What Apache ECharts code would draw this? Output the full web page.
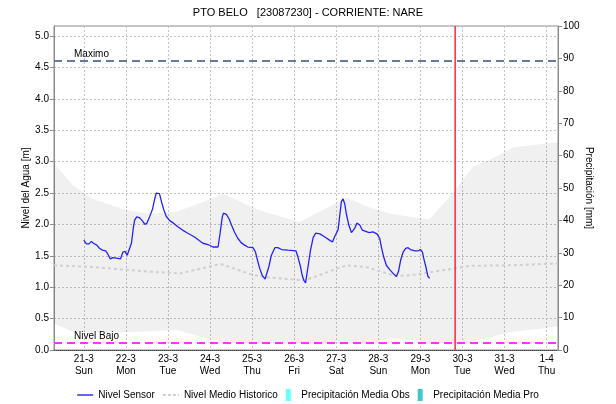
<!DOCTYPE html>
<html>
<head>
<meta charset="utf-8">
<script src="https://cdn.jsdelivr.net/npm/echarts@6/dist/echarts.min.js"></script>
<style>
  html, body { margin: 0; padding: 0; background: #fff; }
  #chart { width: 616px; height: 404px; }
</style>
</head>
<body>
<div id="chart"></div>
<script>
// Station and axis settings
const chartTitle = 'PTO BELO   [23087230] - CORRIENTE: NARE';
const dayNames = ['Sun', 'Mon', 'Tue', 'Wed', 'Thu', 'Fri', 'Sat'];
const axisStart = '2021-03-20 07:00';
const axisEnd = '2021-04-01 06:30';
const nowMark = '2021-03-29 19:50';
const levelMaximo = 4.61;
const levelBajo = 0.12;

// Sensor water level [m]
const sensorLevel = [
  ['2021-03-21 00:00', 1.75], ['2021-03-21 01:30', 1.69], ['2021-03-21 03:00', 1.69],
  ['2021-03-21 04:20', 1.73], ['2021-03-21 05:30', 1.70], ['2021-03-21 07:25', 1.67],
  ['2021-03-21 08:55', 1.62], ['2021-03-21 10:35', 1.59], ['2021-03-21 12:30', 1.58],
  ['2021-03-21 13:40', 1.53], ['2021-03-21 15:05', 1.45], ['2021-03-21 16:35', 1.47],
  ['2021-03-21 19:25', 1.46], ['2021-03-21 20:55', 1.45], ['2021-03-21 22:20', 1.56],
  ['2021-03-21 23:30', 1.57], ['2021-03-22 00:45', 1.51], ['2021-03-22 01:40', 1.50],
  ['2021-03-22 03:10', 1.70], ['2021-03-22 04:20', 1.96], ['2021-03-22 05:00', 2.07],
  ['2021-03-22 06:10', 2.12], ['2021-03-22 07:40', 2.11], ['2021-03-22 09:20', 2.06],
  ['2021-03-22 10:50', 2.00], ['2021-03-22 12:00', 2.02], ['2021-03-22 13:30', 2.12],
  ['2021-03-22 15:10', 2.24], ['2021-03-22 16:20', 2.39], ['2021-03-22 17:20', 2.50],
  ['2021-03-22 18:10', 2.53], ['2021-03-22 19:10', 2.49], ['2021-03-22 20:20', 2.36],
  ['2021-03-22 21:40', 2.23], ['2021-03-22 23:00', 2.13], ['2021-03-23 01:00', 2.06],
  ['2021-03-23 03:10', 2.02], ['2021-03-23 05:50', 1.96], ['2021-03-23 08:20', 1.91],
  ['2021-03-23 11:20', 1.86], ['2021-03-23 15:10', 1.80], ['2021-03-23 18:00', 1.74],
  ['2021-03-23 19:55', 1.70], ['2021-03-23 22:50', 1.68], ['2021-03-24 01:40', 1.64],
  ['2021-03-24 04:35', 1.64], ['2021-03-24 05:45', 1.86], ['2021-03-24 07:00', 2.12],
  ['2021-03-24 07:40', 2.18], ['2021-03-24 09:20', 2.16], ['2021-03-24 10:50', 2.09],
  ['2021-03-24 12:15', 1.99], ['2021-03-24 13:55', 1.88], ['2021-03-24 15:50', 1.78],
  ['2021-03-24 17:45', 1.71], ['2021-03-24 19:40', 1.67], ['2021-03-24 21:35', 1.64],
  ['2021-03-25 00:30', 1.63], ['2021-03-25 01:55', 1.56], ['2021-03-25 03:05', 1.43],
  ['2021-03-25 04:20', 1.30], ['2021-03-25 05:45', 1.19], ['2021-03-25 07:25', 1.13],
  ['2021-03-25 08:25', 1.16], ['2021-03-25 09:35', 1.33], ['2021-03-25 11:00', 1.51],
  ['2021-03-25 13:00', 1.63], ['2021-03-25 14:40', 1.63], ['2021-03-25 16:50', 1.60],
  ['2021-03-25 20:25', 1.59], ['2021-03-26 01:00', 1.58], ['2021-03-26 02:10', 1.48],
  ['2021-03-26 03:35', 1.33], ['2021-03-26 04:35', 1.19], ['2021-03-26 05:30', 1.11],
  ['2021-03-26 06:30', 1.07], ['2021-03-26 07:55', 1.33], ['2021-03-26 09:20', 1.59],
  ['2021-03-26 10:50', 1.79], ['2021-03-26 12:15', 1.86], ['2021-03-26 14:40', 1.85],
  ['2021-03-26 17:30', 1.80], ['2021-03-26 20:10', 1.75], ['2021-03-26 21:50', 1.72],
  ['2021-03-26 23:00', 1.80], ['2021-03-27 01:00', 1.91], ['2021-03-27 01:55', 2.12],
  ['2021-03-27 02:55', 2.36], ['2021-03-27 03:50', 2.41], ['2021-03-27 04:50', 2.33],
  ['2021-03-27 05:45', 2.17], ['2021-03-27 07:10', 1.99], ['2021-03-27 08:40', 1.87],
  ['2021-03-27 09:35', 1.87], ['2021-03-27 10:35', 1.94], ['2021-03-27 11:45', 2.02],
  ['2021-03-27 13:25', 1.99], ['2021-03-27 14:50', 1.91], ['2021-03-27 16:50', 1.89],
  ['2021-03-27 18:45', 1.87], ['2021-03-27 20:55', 1.88], ['2021-03-27 23:15', 1.85],
  ['2021-03-28 00:45', 1.78], ['2021-03-28 01:55', 1.62], ['2021-03-28 03:05', 1.48],
  ['2021-03-28 04:35', 1.35], ['2021-03-28 06:30', 1.28], ['2021-03-28 08:25', 1.22],
  ['2021-03-28 10:20', 1.17], ['2021-03-28 11:30', 1.25], ['2021-03-28 12:45', 1.43],
  ['2021-03-28 14:10', 1.56], ['2021-03-28 15:35', 1.62], ['2021-03-28 17:00', 1.63],
  ['2021-03-28 18:15', 1.60], ['2021-03-28 20:55', 1.58], ['2021-03-28 22:50', 1.58],
  ['2021-03-29 00:00', 1.60], ['2021-03-29 01:10', 1.56], ['2021-03-29 01:55', 1.46],
  ['2021-03-29 03:05', 1.33], ['2021-03-29 04:20', 1.17], ['2021-03-29 05:20', 1.14]
];

// Historical mean level [m]
const medianLevel = [
  ['2021-03-20 07:00', 1.35], ['2021-03-21 05:00', 1.32], ['2021-03-22 00:00', 1.28],
  ['2021-03-22 12:00', 1.25], ['2021-03-23 07:00', 1.22], ['2021-03-24 06:00', 1.37],
  ['2021-03-25 00:00', 1.20], ['2021-03-25 08:00', 1.16], ['2021-03-26 06:00', 1.11],
  ['2021-03-27 06:00', 1.35], ['2021-03-27 17:00', 1.32], ['2021-03-28 10:00', 1.18],
  ['2021-03-28 18:00', 1.19], ['2021-03-29 15:00', 1.28], ['2021-03-30 04:00', 1.34],
  ['2021-03-31 05:00', 1.35], ['2021-04-01 06:30', 1.38]
];

// Historical range band [m]
const bandTimes = [
  '2021-03-20 07:00', '2021-03-20 18:00', '2021-03-21 05:00', '2021-03-22 00:00',
  '2021-03-22 13:00', '2021-03-23 05:00', '2021-03-24 00:00', '2021-03-24 07:00',
  '2021-03-25 04:00', '2021-03-26 03:00', '2021-03-27 06:00', '2021-03-27 19:00',
  '2021-03-28 07:00', '2021-03-29 05:00', '2021-03-29 15:00', '2021-03-29 19:00',
  '2021-03-30 06:00', '2021-03-30 17:00', '2021-03-31 05:00', '2021-04-01 00:00',
  '2021-04-01 06:30'
];
const bandLow = [
  0.42, 0.29, 0.28, 0.28, 0.30, 0.32, 0.17, 0.14, 0.11, 0.10, 0.10,
  0.10, 0.19, 0.13, 0.11, 0.10, 0.14, 0.21, 0.29, 0.35, 0.38
];
const bandHigh = [
  2.97, 2.62, 2.41, 2.23, 2.17, 2.20, 2.40, 2.49, 2.23, 2.04, 2.43,
  2.27, 2.17, 2.08, 2.39, 2.52, 2.92, 3.05, 3.23, 3.29, 3.30
];

// Mean precipitation [mm] (no values in this period)
const precipObs = [];
const precipPro = [];

// Local-time parsing of 'YYYY-MM-DD HH:mm'
function toTime(s) {
  return new Date(s.replace(' ', 'T')).getTime();
}

const fontFamily = '"Liberation Sans", Arial, sans-serif';
const gridDash = { color: '#c4c4c4', type: [2, 2], width: 1 };

const chart = echarts.init(document.getElementById('chart'), null, { renderer: 'canvas' });

chart.setOption({
  animation: false,
  backgroundColor: '#fff',
  textStyle: { fontFamily: fontFamily, color: '#000' },
  title: {
    text: chartTitle,
    left: 'center',
    top: 2,
    textStyle: { fontSize: 11, fontWeight: 'normal', color: '#000', fontFamily: fontFamily }
  },
  legend: {
    bottom: -2,
    left: 'center',
    itemGap: 8,
    itemWidth: 16,
    itemHeight: 12,
    textStyle: { fontSize: 10, color: '#000', fontFamily: fontFamily },
    data: [
      { name: 'Nivel Sensor', icon: 'path://M0,0H16V1.3H0Z' },
      { name: 'Nivel Medio Historico', icon: 'path://M0,0H3V2H0Z M5,0H8V2H5Z M10,0H13V2H10Z M15,0H16V2H15Z' },
      { name: 'Precipitación Media Obs', icon: 'path://M0,0H5V12H0Z' },
      { name: 'Precipitación Media Pro', icon: 'path://M0,0H5V12H0Z' }
    ]
  },
  grid: {
    left: 54, right: 58, top: 26, bottom: 54,
    show: true, borderColor: '#8c8c8c', borderWidth: 1,
    outerBoundsMode: 'none'
  },
  xAxis: {
    type: 'time',
    min: toTime(axisStart),
    max: toTime(axisEnd),
    splitNumber: 12,
    minInterval: 86400000,
    maxInterval: 86400000,
    axisLine: { lineStyle: { color: '#444', type: 'dotted', width: 1 } },
    axisTick: { show: false },
    axisLabel: {
      fontSize: 10,
      color: '#000',
      lineHeight: 12,
      margin: 3,
      hideOverlap: false,
      showMinLabel: false,
      showMaxLabel: false,
      formatter: function (value) {
        const d = new Date(value);
        if (d.getHours() !== 0 || d.getMinutes() !== 0) return '';
        return d.getDate() + '-' + (d.getMonth() + 1) + '\n' + dayNames[d.getDay()];
      }
    },
    splitLine: { show: true, lineStyle: gridDash }
  },
  yAxis: [
    {
      type: 'value',
      min: 0,
      max: 5.16,
      interval: 0.5,
      name: 'Nivel del Agua [m]',
      nameLocation: 'middle',
      nameGap: 23,
      nameMoveOverlap: false,
      nameTextStyle: { fontSize: 10, color: '#000' },
      axisLine: { show: true, lineStyle: { color: '#8c8c8c' } },
      axisTick: { show: true, length: 4, lineStyle: { color: '#8c8c8c' } },
      axisLabel: {
        fontSize: 10, color: '#000', margin: 5,
        showMaxLabel: false,
        formatter: function (v) {
          return Math.abs(v * 2 - Math.round(v * 2)) < 1e-6 ? v.toFixed(1) : '';
        }
      },
      splitLine: { show: true, lineStyle: gridDash }
    },
    {
      type: 'value',
      min: 0,
      max: 100,
      interval: 10,
      position: 'right',
      name: 'Precipitación [mm]',
      nameLocation: 'middle',
      nameRotate: -90,
      nameGap: 26,
      nameMoveOverlap: false,
      nameTextStyle: { fontSize: 10, color: '#000' },
      axisLine: { show: true, lineStyle: { color: '#8c8c8c' } },
      axisTick: { show: true, length: 4, lineStyle: { color: '#8c8c8c' } },
      axisLabel: { fontSize: 10, color: '#000', margin: 5 },
      splitLine: { show: false }
    }
  ],
  series: [
    {
      name: 'bandBase',
      type: 'line',
      stack: 'band',
      symbol: 'none',
      silent: true,
      lineStyle: { width: 0, opacity: 0 },
      data: bandTimes.map((t, i) => [toTime(t), bandLow[i]]),
      z: 1
    },
    {
      name: 'bandRange',
      type: 'line',
      stack: 'band',
      symbol: 'none',
      silent: true,
      lineStyle: { width: 0, opacity: 0 },
      areaStyle: { color: 'rgba(0,0,0,0.06)', opacity: 1 },
      data: bandTimes.map((t, i) => [toTime(t), bandHigh[i] - bandLow[i]]),
      z: 1
    },
    {
      name: 'Nivel Medio Historico',
      type: 'line',
      symbol: 'none',
      color: '#cfcfcf',
      lineStyle: { color: '#cfcfcf', width: 2, type: [3, 3] },
      data: medianLevel.map(p => [toTime(p[0]), p[1]]),
      z: 2
    },
    {
      // Precipitation series are listed in the legend; no readings in range
      name: 'Precipitación Media Obs',
      type: 'line',
      yAxisIndex: 1,
      symbol: 'none',
      color: '#66ffff',
      data: precipObs
    },
    {
      name: 'Precipitación Media Pro',
      type: 'line',
      yAxisIndex: 1,
      symbol: 'none',
      color: '#3fc8c8',
      data: precipPro
    },
    {
      // current time marker, spanning the full precipitation axis
      name: 'nowLine',
      type: 'line',
      yAxisIndex: 1,
      symbol: 'none',
      silent: true,
      color: '#ff2b2b',
      lineStyle: { color: '#ff2b2b', width: 1.5 },
      data: [[toTime(nowMark), 0], [toTime(nowMark), 100]],
      z: 5
    },
    {
      name: 'Nivel Sensor',
      type: 'line',
      symbol: 'none',
      color: '#1414e6',
      lineStyle: { color: '#2323ff', width: 1.3 },
      data: sensorLevel.map(p => [toTime(p[0]), p[1]]),
      z: 4,
      markLine: {
        silent: true,
        symbol: ['none', 'none'],
        animation: false,
        data: [
          {
            yAxis: levelMaximo,
            lineStyle: { color: '#6a789e', type: [8, 5], width: 2 },
            label: {
              show: true, formatter: 'Maximo', position: 'insideStartTop',
              distance: [20, 1], fontSize: 10, color: '#000'
            }
          },
          {
            yAxis: levelBajo,
            lineStyle: { color: '#ff33ff', type: [8, 5], width: 2 },
            label: {
              show: true, formatter: 'Nivel Bajo', position: 'insideStartTop',
              distance: [20, 1], fontSize: 10, color: '#000'
            }
          }
        ]
      }
    }
  ]
});
</script>
</body>
</html>
